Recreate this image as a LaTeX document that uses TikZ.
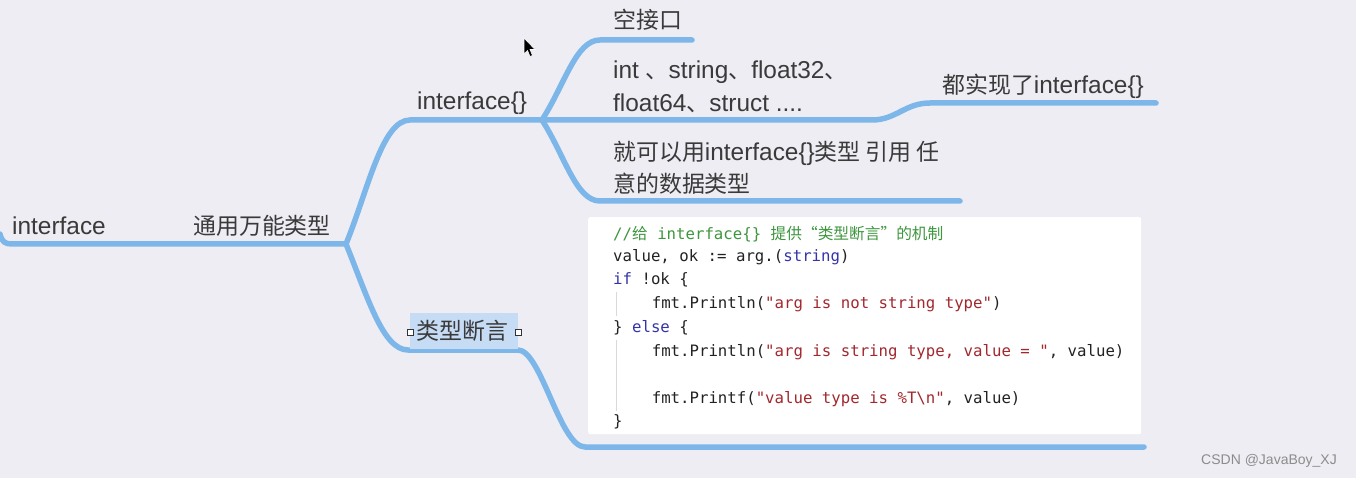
\documentclass[tikz,border=0pt]{standalone}
\usepackage{fontspec}
\setmainfont{Liberation Sans}
\newfontfamily\cjk[Scale=0.94]{Noto Sans CJK SC}
\newfontfamily\codecjk{Noto Sans CJK SC}
\newfontfamily\codefont{DejaVu Sans Mono}
\definecolor{bg}{HTML}{EEEDF3}
\definecolor{mmblue}{HTML}{7DB7EA}
\definecolor{hl}{HTML}{C6DCF4}
\definecolor{txt}{HTML}{3A3A3A}
\definecolor{cgreen}{HTML}{3E963E}
\definecolor{cblue}{HTML}{3434A8}
\definecolor{cred}{HTML}{A2282E}
\definecolor{cblack}{HTML}{222222}
\begin{document}
\begin{tikzpicture}[x=1pt,y=-1pt,
  branch/.style={draw=mmblue,line width=5.5pt,line cap=round,line join=round},
  mmtext/.style={anchor=west,inner sep=0pt,text=txt,font=\fontsize{24.4}{28}\selectfont},
  codeline/.style={anchor=west,inner sep=0pt,text=cblack,font=\codefont\fontsize{15.7}{18}\selectfont},
  guide/.style={draw=black!15,line width=0.8pt},
  handle/.style={draw=black!80,fill=white,line width=1pt,minimum size=6pt,inner sep=0pt}]
\useasboundingbox (0,0) rectangle (1356,478);
\fill[bg] (0,0) rectangle (1356,478);

% coordinates of the map
\coordinate (root0) at (0,234);
\coordinate (root1) at (346,244);
\coordinate (up1) at (410,120);
\coordinate (ib) at (542,120);
\coordinate (lo1) at (408,350);
\coordinate (lo2) at (518,350);
\coordinate (lo3) at (585,447);
\coordinate (lo4) at (1144,447);
\coordinate (e1) at (600,40);
\coordinate (e2) at (692,40);
\coordinate (m1) at (872,120);
\coordinate (m2) at (930,103);
\coordinate (m3) at (1156,103);
\coordinate (d1) at (600,201);
\coordinate (d2) at (960,201);

% branches
\draw[branch] (root0) .. controls (2,242) and (5,244) .. (12,244) -- (root1);
\draw[branch] (root1) .. controls (368,190) and (382,120) .. (up1) -- (ib);
\draw[branch] (root1) .. controls (368,298) and (383,350) .. (lo1) -- (lo2)
  .. controls (541,350) and (560,447) .. (lo3) -- (lo4);
\draw[branch] (ib) .. controls (565,84) and (576,40) .. (e1) -- (e2);
\draw[branch] (ib) -- (m1) .. controls (896,120) and (905,103) .. (m2) -- (m3);
\draw[branch] (ib) .. controls (565,156) and (576,201) .. (d1) -- (d2);

% highlight of selected node
\fill[hl] (410,313) rectangle (518,349);
\node[handle] (hL) at (410,332) {};
\node[handle] (hR) at (518,332) {};

% texts
\node[mmtext] (troot) at (12,226) {interface};
\node[mmtext] (tgen) at (193,226) {\cjk 通用万能类型};
\node[mmtext] (tif) at (417,103) {interface\{\}};
\node[mmtext] (tassert) at (416,331) {\cjk 类型断言};
\node[mmtext] (tempty) at (613,20) {\cjk 空接口};
\node[mmtext] (tint1) at (613,72) {int {\cjk 、}string{\cjk 、}float32{\cjk 、}};
\node[mmtext] (tint2) at (613,103) {float64{\cjk 、}struct ....};
\node[mmtext] (timpl) at (942,86) {{\cjk 都实现了}interface\{\}};
\node[mmtext] (tuse1) at (613,153) {{\cjk 就可以用}interface\{\}{\cjk 类型 引用 任}};
\node[mmtext] (tuse2) at (613,184) {\cjk 意的数据类型};

% code box
\node[fill=white,rounded corners=2pt,minimum width=553pt,minimum height=217pt,anchor=north west,inner sep=0pt] (codebox) at (588,217) {};
\draw[guide] (616,292) -- (616,316);
\draw[guide] (616,340) -- (616,411);
\node[codeline,text=cgreen] (c1) at (613,234) {//{\codecjk 给} interface\{\} {\codecjk 提供“类型断言”的机制}};
\node[codeline] (c2) at (613,257) {value, ok := arg.(\textcolor{cblue}{string})};
\node[codeline] (c3) at (613,280) {\textcolor{cblue}{if} !ok \{};
\node[codeline] (c4) at (651.6,304) {fmt.Println(\textcolor{cred}{"arg is not string type"})};
\node[codeline] (c5) at (613,328) {\} \textcolor{cblue}{else} \{};
\node[codeline] (c6) at (651.6,352) {fmt.Println(\textcolor{cred}{"arg is string type, value = "}, value)};
\node[codeline] (c7) at (651.6,399) {fmt.Printf(\textcolor{cred}{"value type is \%T\textbackslash n"}, value)};
\node[codeline] (c8) at (613,422) {\}};

% mouse cursor
\filldraw[fill=black,draw=white,line width=0.6pt] (524,38) -- (524,54) -- (527.5,50.5) -- (530,56.5) -- (532.5,55.5) -- (530,49.5) -- (535,49.5) -- cycle;

% watermark
\node[anchor=west,inner sep=0pt,text=black!45,font=\fontsize{14}{16}\selectfont] (wm) at (1201,461) {CSDN @JavaBoy\_XJ};
\end{tikzpicture}
\end{document}
